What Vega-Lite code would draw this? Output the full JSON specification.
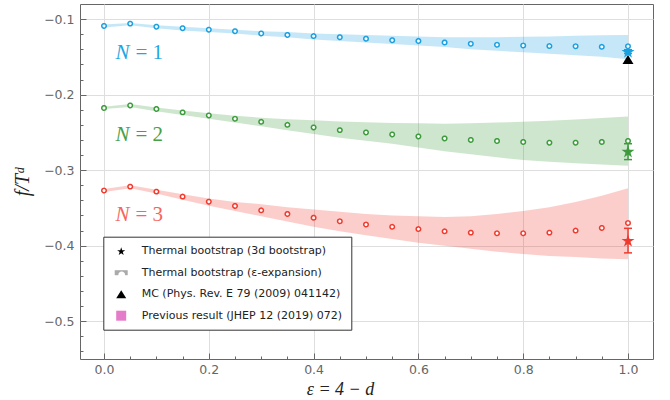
{
  "$schema": "https://vega.github.io/schema/vega-lite/v6.json",
  "width": 573,
  "height": 355,
  "autosize": "none",
  "padding": {"left": 80, "top": 4, "right": 17, "bottom": 41},
  "background": "white",
  "config": {
    "view": {"stroke": "#666", "strokeWidth": 1},
    "axis": {"domain": false, "tickColor": "#666", "gridColor": "#dedede", "gridWidth": 1, "labelFont": "DejaVu Sans", "labelFontSize": 12.5, "labelColor": "#666", "titleFont": "Liberation Serif", "titleFontStyle": "italic", "titleFontWeight": "normal", "titleFontSize": 18, "titleColor": "#222"}
  },
  "datasets": {
    "curves": [
      {"N":"1","eps":0.00,"val":-0.109,"lo":-0.111,"hi":-0.107},
      {"N":"1","eps":0.05,"val":-0.106,"lo":-0.108,"hi":-0.105},
      {"N":"1","eps":0.10,"val":-0.110,"lo":-0.112,"hi":-0.108},
      {"N":"1","eps":0.15,"val":-0.112,"lo":-0.115,"hi":-0.110},
      {"N":"1","eps":0.20,"val":-0.114,"lo":-0.117,"hi":-0.112},
      {"N":"1","eps":0.25,"val":-0.116,"lo":-0.119,"hi":-0.114},
      {"N":"1","eps":0.30,"val":-0.119,"lo":-0.122,"hi":-0.116},
      {"N":"1","eps":0.35,"val":-0.121,"lo":-0.124,"hi":-0.117},
      {"N":"1","eps":0.40,"val":-0.1225,"lo":-0.127,"hi":-0.119},
      {"N":"1","eps":0.45,"val":-0.124,"lo":-0.129,"hi":-0.120},
      {"N":"1","eps":0.50,"val":-0.126,"lo":-0.131,"hi":-0.121},
      {"N":"1","eps":0.55,"val":-0.128,"lo":-0.133,"hi":-0.122},
      {"N":"1","eps":0.60,"val":-0.129,"lo":-0.135,"hi":-0.123},
      {"N":"1","eps":0.65,"val":-0.131,"lo":-0.137,"hi":-0.124},
      {"N":"1","eps":0.70,"val":-0.1327,"lo":-0.140,"hi":-0.124},
      {"N":"1","eps":0.75,"val":-0.134,"lo":-0.142,"hi":-0.124},
      {"N":"1","eps":0.80,"val":-0.135,"lo":-0.144,"hi":-0.1235},
      {"N":"1","eps":0.85,"val":-0.1357,"lo":-0.146,"hi":-0.123},
      {"N":"1","eps":0.90,"val":-0.136,"lo":-0.148,"hi":-0.122},
      {"N":"1","eps":0.95,"val":-0.1367,"lo":-0.150,"hi":-0.1215},
      {"N":"1","eps":1.00,"val":-0.136,"lo":-0.153,"hi":-0.121},
      {"N":"2","eps":0.00,"val":-0.2177,"lo":-0.219,"hi":-0.216},
      {"N":"2","eps":0.05,"val":-0.2143,"lo":-0.2165,"hi":-0.2125},
      {"N":"2","eps":0.10,"val":-0.219,"lo":-0.222,"hi":-0.217},
      {"N":"2","eps":0.15,"val":-0.2235,"lo":-0.227,"hi":-0.221},
      {"N":"2","eps":0.20,"val":-0.2275,"lo":-0.232,"hi":-0.2245},
      {"N":"2","eps":0.25,"val":-0.232,"lo":-0.237,"hi":-0.228},
      {"N":"2","eps":0.30,"val":-0.236,"lo":-0.242,"hi":-0.2305},
      {"N":"2","eps":0.35,"val":-0.240,"lo":-0.247,"hi":-0.2325},
      {"N":"2","eps":0.40,"val":-0.2434,"lo":-0.252,"hi":-0.234},
      {"N":"2","eps":0.45,"val":-0.247,"lo":-0.257,"hi":-0.2355},
      {"N":"2","eps":0.50,"val":-0.250,"lo":-0.261,"hi":-0.2365},
      {"N":"2","eps":0.55,"val":-0.2527,"lo":-0.265,"hi":-0.2375},
      {"N":"2","eps":0.60,"val":-0.2553,"lo":-0.270,"hi":-0.238},
      {"N":"2","eps":0.65,"val":-0.258,"lo":-0.275,"hi":-0.2385},
      {"N":"2","eps":0.70,"val":-0.260,"lo":-0.279,"hi":-0.238},
      {"N":"2","eps":0.75,"val":-0.2614,"lo":-0.283,"hi":-0.237},
      {"N":"2","eps":0.80,"val":-0.2627,"lo":-0.2865,"hi":-0.236},
      {"N":"2","eps":0.85,"val":-0.2636,"lo":-0.289,"hi":-0.2345},
      {"N":"2","eps":0.90,"val":-0.2636,"lo":-0.291,"hi":-0.233},
      {"N":"2","eps":0.95,"val":-0.2627,"lo":-0.2925,"hi":-0.231},
      {"N":"2","eps":1.00,"val":-0.2614,"lo":-0.294,"hi":-0.229},
      {"N":"3","eps":0.00,"val":-0.327,"lo":-0.329,"hi":-0.325},
      {"N":"3","eps":0.05,"val":-0.3218,"lo":-0.324,"hi":-0.320},
      {"N":"3","eps":0.10,"val":-0.3284,"lo":-0.331,"hi":-0.326},
      {"N":"3","eps":0.15,"val":-0.335,"lo":-0.339,"hi":-0.332},
      {"N":"3","eps":0.20,"val":-0.3417,"lo":-0.347,"hi":-0.3375},
      {"N":"3","eps":0.25,"val":-0.3474,"lo":-0.354,"hi":-0.342},
      {"N":"3","eps":0.30,"val":-0.3532,"lo":-0.361,"hi":-0.345},
      {"N":"3","eps":0.35,"val":-0.358,"lo":-0.368,"hi":-0.349},
      {"N":"3","eps":0.40,"val":-0.363,"lo":-0.375,"hi":-0.352},
      {"N":"3","eps":0.45,"val":-0.3677,"lo":-0.381,"hi":-0.355},
      {"N":"3","eps":0.50,"val":-0.372,"lo":-0.386,"hi":-0.358},
      {"N":"3","eps":0.55,"val":-0.375,"lo":-0.391,"hi":-0.360},
      {"N":"3","eps":0.60,"val":-0.378,"lo":-0.396,"hi":-0.361},
      {"N":"3","eps":0.65,"val":-0.381,"lo":-0.400,"hi":-0.362},
      {"N":"3","eps":0.70,"val":-0.3827,"lo":-0.404,"hi":-0.361},
      {"N":"3","eps":0.75,"val":-0.3836,"lo":-0.408,"hi":-0.358},
      {"N":"3","eps":0.80,"val":-0.3836,"lo":-0.411,"hi":-0.354},
      {"N":"3","eps":0.85,"val":-0.3827,"lo":-0.4135,"hi":-0.349},
      {"N":"3","eps":0.90,"val":-0.380,"lo":-0.415,"hi":-0.342},
      {"N":"3","eps":0.95,"val":-0.3765,"lo":-0.417,"hi":-0.334},
      {"N":"3","eps":1.00,"val":-0.370,"lo":-0.418,"hi":-0.324}
    ],
    "stars": [
      {"N":"1","eps":1,"val":-0.143,"lo":-0.1455,"hi":-0.1405},
      {"N":"2","eps":1,"val":-0.275,"lo":-0.286,"hi":-0.265},
      {"N":"3","eps":1,"val":-0.393,"lo":-0.4095,"hi":-0.377}
    ],
    "mc": [
      {"N":"MC","eps":1,"val":-0.1535}
    ],
    "sources": [
      {"src":"Thermal bootstrap (3d bootstrap)"},
      {"src":"Thermal bootstrap (ε-expansion)"},
      {"src":"MC (Phys. Rev. E 79 (2009) 041142)"},
      {"src":"Previous result (JHEP 12 (2019) 072)"}
    ],
    "labels": [
      {"N":"1","eps":0.022,"val":-0.1525,"rest":"= 1"},
      {"N":"2","eps":0.022,"val":-0.261,"rest":"= 2"},
      {"N":"3","eps":0.022,"val":-0.3677,"rest":"= 3"}
    ]
  },
  "resolve": {"scale": {"fill": "independent", "shape": "independent", "strokeDash": "independent"}, "axis": {"x": "independent", "y": "independent"}},
  "layer": [
    {
      "data": {"name": "curves"},
      "mark": {"type": "area", "opacity": 0.25},
      "encoding": {
        "x": {"field": "eps", "type": "quantitative", "scale": {"domain": [-0.0458, 1.0477], "nice": false, "zero": false},
              "axis": {"orient": "bottom", "values": [0, 0.2, 0.4, 0.6, 0.8, 1.0], "format": ".1f", "grid": true, "tickSize": -6, "labelPadding": 10, "title": "ε = 4 − d", "titlePadding": 5, "titleX": 260}},
        "y": {"field": "lo", "type": "quantitative", "scale": {"domain": [-0.55, -0.08], "nice": false, "zero": false},
              "axis": {"orient": "left", "values": [-0.5, -0.4, -0.3, -0.2, -0.1], "format": ".1f", "grid": true, "tickSize": -6, "labelPadding": 12, "title": "f/Tᵈ", "titlePadding": 11, "titleFontSize": 20}},
        "y2": {"field": "hi"},
        "color": {"field": "N", "type": "nominal", "scale": {"domain": ["1", "2", "3", "MC"], "range": ["#1aa0e0", "#3d9b3d", "#f03a2e", "black"]}, "legend": null}
      }
    },
    {
      "data": {"name": "sources"},
      "mark": {"type": "point", "filled": true, "opacity": 0},
      "encoding": {
        "shape": {"field": "src", "type": "nominal",
          "scale": {"domain": ["Thermal bootstrap (3d bootstrap)", "Thermal bootstrap (ε-expansion)", "MC (Phys. Rev. E 79 (2009) 041142)", "Previous result (JHEP 12 (2019) 072)"],
                    "range": ["M0,-0.77L0.191,-0.182L0.808,-0.182L0.309,0.181L0.5,0.768L0,0.405L-0.5,0.768L-0.309,0.181L-0.808,-0.182L-0.191,-0.182Z", "M-1.3,-0.5L1.3,-0.5L1.3,0.5L-1.3,0.5Z", "M0,-0.8L1,0.8L-1,0.8Z", "M-1,-1L1,-1L1,1L-1,1Z"]},
          "legend": {"orient": "none", "legendX": 23.3, "legendY": 232.7, "title": null, "padding": 9, "strokeColor": "#333", "fillColor": "white", "symbolSize": 100, "symbolOffset": 3.4, "symbolOpacity": 1, "symbolStrokeWidth": 0, "labelFont": "DejaVu Sans", "labelFontSize": 11, "labelColor": "#222", "labelOffset": 15, "rowPadding": 9.5, "labelLimit": 400}
        },
        "fill": {"field": "src", "type": "nominal",
          "scale": {"domain": ["Thermal bootstrap (3d bootstrap)", "Thermal bootstrap (ε-expansion)", "MC (Phys. Rev. E 79 (2009) 041142)", "Previous result (JHEP 12 (2019) 072)"],
                    "range": ["black", "#aaaaaa", "black", "#e57cc9"]},
          "legend": {"orient": "none", "legendX": 23.3, "legendY": 232.7, "title": null, "padding": 9, "strokeColor": "#333", "fillColor": "white", "symbolSize": 100, "symbolOffset": 3.4, "symbolOpacity": 1, "symbolStrokeWidth": 0, "labelFont": "DejaVu Sans", "labelFontSize": 11, "labelColor": "#222", "labelOffset": 15, "rowPadding": 9.5, "labelLimit": 400}
        }
      }
    },
    {
      "data": {"name": "mc"},
      "mark": {"type": "point", "filled": true, "opacity": 1, "size": 121, "shape": "M0,-0.8L1,0.8L-1,0.8Z"},
      "encoding": {
        "x": {"field": "eps", "type": "quantitative", "axis": null},
        "y": {"field": "val", "type": "quantitative", "axis": null},
        "color": {"field": "N", "type": "nominal", "legend": null}
      }
    },
    {
      "data": {"name": "stars"},
      "mark": {"type": "point", "filled": true, "opacity": 1, "size": 259, "shape": "M0,-0.77L0.191,-0.182L0.808,-0.182L0.309,0.181L0.5,0.768L0,0.405L-0.5,0.768L-0.309,0.181L-0.808,-0.182L-0.191,-0.182Z"},
      "encoding": {
        "x": {"field": "eps", "type": "quantitative", "axis": null},
        "y": {"field": "val", "type": "quantitative", "axis": null},
        "color": {"field": "N", "type": "nominal", "legend": null}
      }
    },
    {
      "data": {"name": "stars"},
      "mark": {"type": "rule", "strokeWidth": 1.5},
      "encoding": {
        "x": {"field": "eps", "type": "quantitative", "axis": null},
        "y": {"field": "lo", "type": "quantitative", "axis": null},
        "y2": {"field": "hi"},
        "color": {"field": "N", "type": "nominal", "legend": null}
      }
    },
    {
      "data": {"name": "stars"},
      "mark": {"type": "tick", "orient": "horizontal", "size": 8, "thickness": 1.5, "opacity": 1},
      "encoding": {
        "x": {"field": "eps", "type": "quantitative", "axis": null},
        "y": {"field": "lo", "type": "quantitative", "axis": null},
        "color": {"field": "N", "type": "nominal", "legend": null}
      }
    },
    {
      "data": {"name": "stars"},
      "mark": {"type": "tick", "orient": "horizontal", "size": 8, "thickness": 1.5, "opacity": 1},
      "encoding": {
        "x": {"field": "eps", "type": "quantitative", "axis": null},
        "y": {"field": "hi", "type": "quantitative", "axis": null},
        "color": {"field": "N", "type": "nominal", "legend": null}
      }
    },
    {
      "data": {"name": "curves"},
      "mark": {"type": "point", "shape": "circle", "filled": true, "fill": "white", "size": 20, "strokeWidth": 1.5, "opacity": 1},
      "encoding": {
        "x": {"field": "eps", "type": "quantitative",
              "axis": {"orient": "bottom", "values": [0, 0.05, 0.1, 0.15, 0.2, 0.25, 0.3, 0.35, 0.4, 0.45, 0.5, 0.55, 0.6, 0.65, 0.7, 0.75, 0.8, 0.85, 0.9, 0.95, 1.0], "labels": false, "grid": false, "tickSize": -3, "title": null}},
        "y": {"field": "val", "type": "quantitative",
              "axis": {"orient": "left", "values": [-0.54, -0.52, -0.5, -0.48, -0.46, -0.44, -0.42, -0.4, -0.38, -0.36, -0.34, -0.32, -0.3, -0.28, -0.26, -0.24, -0.22, -0.2, -0.18, -0.16, -0.14, -0.12, -0.1], "labels": false, "grid": false, "tickSize": -3, "title": null}},
        "stroke": {"field": "N", "type": "nominal", "scale": {"domain": ["1", "2", "3"], "range": ["#1aa0e0", "#3d9b3d", "#f03a2e"]}, "legend": null},
        "strokeDash": {"datum": "Thermal bootstrap (ε-expansion)", "type": "nominal", "scale": {"range": [[1, 0]]},
          "legend": {"orient": "none", "legendX": 23.3, "legendY": 255.9, "title": null, "padding": 9, "symbolType": "M0.68,0A0.68,0.68 0 1,1 -0.68,0A0.68,0.68 0 1,1 0.68,0Z", "symbolSize": 100, "symbolOffset": 3.4, "symbolFillColor": "white", "symbolStrokeColor": "black", "symbolStrokeWidth": 1.6, "symbolOpacity": 1, "labelExpr": "''", "labelFontSize": 11, "labelOffset": 15}}
      }
    },
    {
      "data": {"name": "labels"},
      "mark": {"type": "text", "font": "Liberation Serif", "fontStyle": "italic", "fontSize": 21, "align": "left", "baseline": "alphabetic", "text": "N"},
      "encoding": {
        "x": {"field": "eps", "type": "quantitative", "axis": null},
        "y": {"field": "val", "type": "quantitative", "axis": null},
        "fill": {"field": "N", "type": "nominal", "scale": {"domain": ["1", "2", "3"], "range": ["#22a6e2", "#46a046", "#f4665d"]}, "legend": null}
      }
    },
    {
      "data": {"name": "labels"},
      "mark": {"type": "text", "font": "Liberation Serif", "fontSize": 21, "align": "left", "baseline": "alphabetic", "dx": 20},
      "encoding": {
        "x": {"field": "eps", "type": "quantitative", "axis": null},
        "y": {"field": "val", "type": "quantitative", "axis": null},
        "text": {"field": "rest"},
        "fill": {"field": "N", "type": "nominal", "scale": {"domain": ["1", "2", "3"], "range": ["#22a6e2", "#46a046", "#f4665d"]}, "legend": null}
      }
    }
  ]
}
